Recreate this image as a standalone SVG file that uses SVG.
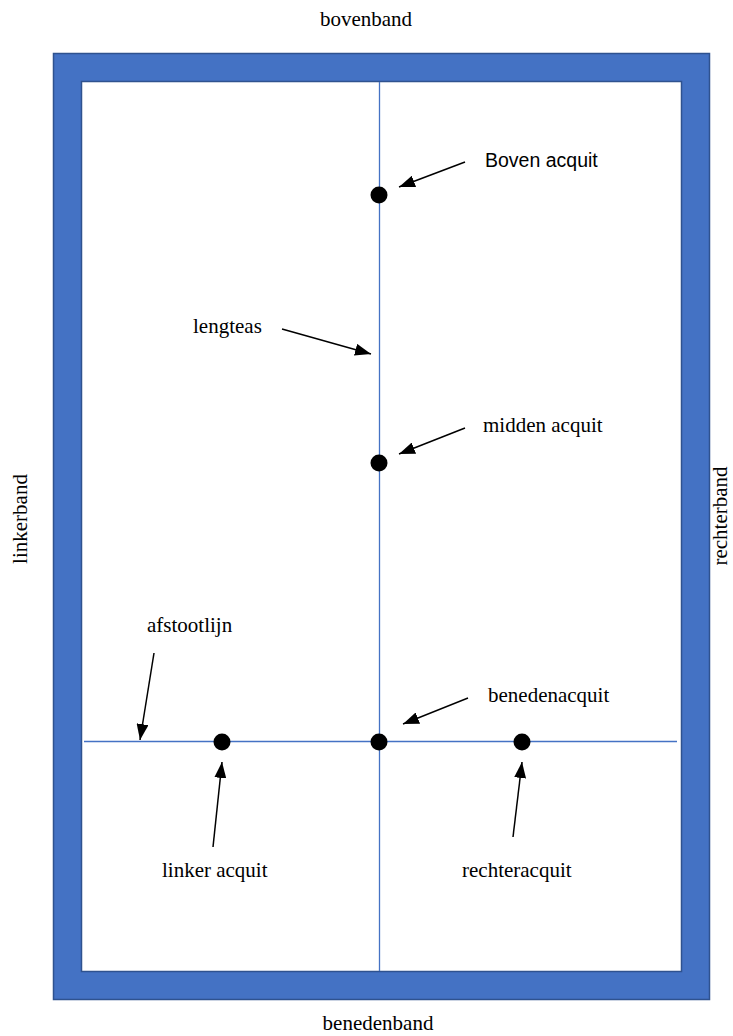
<svg xmlns="http://www.w3.org/2000/svg" width="733" height="1036" viewBox="0 0 733 1036">
<style>
.serif{font-family:"Liberation Serif","Times New Roman",serif;font-size:21px;fill:#000}
.sans{font-family:"Liberation Sans",Arial,sans-serif;font-size:19.5px;fill:#000}
.axis{stroke:#4472C4;stroke-width:1.3;fill:none}
.dot{fill:#000}
.conn line{stroke:#000;stroke-width:1.5;marker-end:url(#ah)}
</style>
<defs>
<marker id="ah" viewBox="0 0 16 12" refX="16" refY="6" markerWidth="16" markerHeight="12" markerUnits="userSpaceOnUse" orient="auto">
<path d="M0,0 L16,6 L0,12 z" fill="#000"/>
</marker>
</defs>
<rect width="733" height="1036" fill="#fff"/>
<g id="frame">
<path d="M53.5,53.5 H709.5 V999.5 H53.5 Z M81.5,81.5 V971.5 H681.5 V81.5 Z" fill="#4472C4" fill-rule="evenodd" stroke="#2F528F" stroke-width="1.5"/>
</g>
<g id="lengteas-line"><line class="axis" x1="379.5" y1="82" x2="379.5" y2="971"/></g>
<g id="afstootlijn-line"><line class="axis" x1="84" y1="741.5" x2="677" y2="741.5"/></g>
<g id="dot-boven"><circle class="dot" cx="379" cy="195" r="8.5"/></g>
<g id="dot-midden"><circle class="dot" cx="379" cy="463" r="8.5"/></g>
<g id="dot-beneden"><circle class="dot" cx="379" cy="742" r="8.5"/></g>
<g id="dot-linker"><circle class="dot" cx="222" cy="742" r="8.5"/></g>
<g id="dot-rechter"><circle class="dot" cx="522" cy="742" r="8.5"/></g>
<g id="connectors" class="conn">
<line x1="465" y1="162" x2="399" y2="187"/>
<line x1="282" y1="329" x2="371" y2="354"/>
<line x1="465" y1="428" x2="399" y2="454"/>
<line x1="154" y1="653" x2="140" y2="740"/>
<line x1="468" y1="698" x2="403" y2="724"/>
<line x1="213" y1="847" x2="222" y2="762"/>
<line x1="513" y1="837" x2="522" y2="762"/>
</g>
<g id="labels">
<text class="serif" x="366" y="26" text-anchor="middle">bovenband</text>
<text class="serif" x="378" y="1030" text-anchor="middle">benedenband</text>
<text class="serif" transform="translate(27,519) rotate(-90)" text-anchor="middle">linkerband</text>
<text class="serif" transform="translate(727,516) rotate(-90)" text-anchor="middle">rechterband</text>
<text class="sans" x="485" y="167">Boven acquit</text>
<text class="serif" x="193" y="333">lengteas</text>
<text class="serif" x="483" y="432">midden acquit</text>
<text class="serif" x="147" y="632">afstootlijn</text>
<text class="serif" x="488" y="702">benedenacquit</text>
<text class="serif" x="162" y="877">linker acquit</text>
<text class="serif" x="462" y="877">rechteracquit</text>
</g>
</svg>
